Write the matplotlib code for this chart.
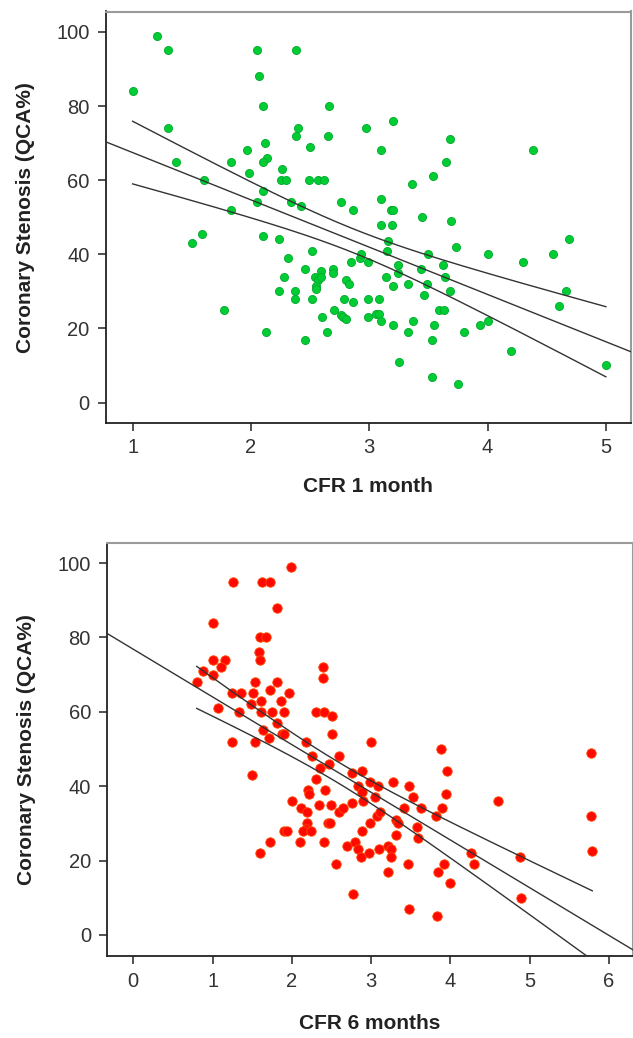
import numpy as np
import matplotlib.pyplot as plt

plt.rcParams['font.family'] = ['Liberation Sans', 'DejaVu Sans']

# CFR at 1 month vs stenosis
cfr1_x = [1.21, 1.30, 2.05, 2.38, 2.07, 1.00, 2.10, 2.66, 1.30, 2.40, 2.97, 2.38, 2.65,
          2.50, 2.12, 1.97, 2.14, 2.10, 1.37, 1.83, 2.26, 1.98, 1.60, 2.25, 2.30, 2.49,
          2.57, 2.62, 2.10, 2.05, 2.34, 2.42, 2.76, 2.86, 1.83,
          3.20, 3.68, 4.38, 3.10, 3.65, 3.54, 3.36, 3.10, 3.18, 3.20, 3.45, 3.69,
          1.59, 1.50, 2.10, 2.24, 2.52, 2.31, 2.46, 2.59, 2.69, 2.69, 2.28, 2.54, 2.57,
          2.59, 2.55, 2.55, 2.80, 2.83, 2.24, 2.37, 2.37, 2.52, 2.79, 2.86, 2.99, 2.70,
          2.60, 2.76, 2.78, 2.80, 2.99, 1.77, 2.13, 2.64, 2.46, 2.85, 2.92, 2.93, 2.99,
          3.10, 3.19, 4.69, 3.16, 3.73, 3.15, 4.00, 4.55, 3.50, 4.30, 3.62, 3.24, 3.44,
          3.64, 3.24, 3.14, 3.33, 3.20, 3.49, 3.46, 3.68, 4.66, 4.60, 3.08, 3.59, 3.63,
          3.06, 3.08, 3.10, 3.20, 3.37, 3.55, 3.33, 3.80, 3.94, 4.00, 3.53, 4.20, 5.00,
          3.25, 3.53, 3.75]
cfr1_y = [99, 95, 95, 95, 88, 84, 80, 80, 74, 74, 74, 72, 72,
          69, 70, 68, 66, 65, 65, 65, 63, 62, 60, 60, 60, 60,
          60, 60, 57, 54, 54, 53, 54, 52, 52,
          76, 71, 68, 68, 65, 61, 59, 55, 52, 52, 50, 49,
          45.5, 43, 45, 44, 41, 39, 36, 35.5, 36, 35, 34, 34, 33,
          34, 31.5, 30.5, 33, 32, 30, 30, 28, 28, 28, 27, 28, 25,
          23, 23.5, 23, 22.5, 23, 25, 19, 19, 17, 38, 39, 40, 38,
          48, 48, 44, 43.5, 42, 41, 40, 40, 40, 38, 37, 37, 36,
          34, 35, 34, 32, 31.5, 32, 29, 30, 30, 26, 28, 25, 25,
          24, 23.8, 22, 21, 22, 21, 19, 19, 21, 22, 17, 14, 10,
          11, 7, 5]

# CFR at 6 months vs stenosis
cfr6_x = [1.99, 1.26, 1.62, 1.72, 1.81, 1.00, 1.60, 1.68, 1.59, 1.60, 1.00, 1.16, 1.11,
          0.88, 1.00, 2.39, 2.39, 0.80, 1.53, 1.81, 1.73, 1.25, 1.36, 1.51, 1.97, 1.86,
          1.48, 1.61, 1.07, 1.33, 1.61, 1.75, 1.90, 2.31, 2.40, 2.51, 1.81, 1.64, 1.87,
          1.90, 2.51, 1.71, 1.25, 1.53, 2.18, 3.00,
          3.88, 5.78,
          2.26, 2.60, 1.50, 2.35, 2.47, 2.30, 2.76, 2.89, 2.20, 2.22, 2.42, 2.00, 2.34,
          2.50, 2.12, 2.19, 2.60, 2.64, 2.76, 2.19, 2.18, 2.46, 2.48, 1.90, 1.94, 2.14,
          2.24, 2.89, 1.73, 2.10, 2.40, 2.70, 2.80, 2.84, 2.87, 1.60, 2.97, 2.56, 2.77,
          2.84, 2.89, 2.90, 2.98, 2.98,
          3.96, 3.09, 3.05, 3.07, 3.11, 3.10, 3.21, 3.25, 3.25, 3.21, 3.27, 3.48, 3.53,
          3.42, 3.63, 3.90, 3.95, 3.82, 3.31, 3.34, 3.58, 3.59, 3.31, 4.60, 5.78, 5.79,
          4.26, 4.30, 4.88, 4.89, 3.46, 3.92, 3.84, 4.00, 3.48, 3.83]
cfr6_y = [99, 95, 95, 95, 88, 84, 80, 80, 76, 74, 74, 74, 72,
          71, 70, 72, 69, 68, 68, 68, 66, 65, 65, 65, 65, 63,
          62, 63, 61, 60, 60, 60, 60, 60, 60, 59, 57, 55, 54,
          54, 54, 53, 52, 52, 52, 52,
          50, 49,
          48, 48, 43, 45, 46, 42, 43.5, 44, 39, 38, 39, 36, 35,
          35, 34, 33, 33, 34, 35.5, 30, 28.5, 30, 30, 28, 28, 28,
          28, 28, 25, 25, 25, 24, 25, 23, 21, 22, 22, 19, 11,
          40, 38.5, 36, 41, 30,
          44, 40, 37, 32, 33, 23, 24, 23, 21, 17, 41, 40, 37,
          34, 34, 34, 38, 32, 31, 30, 29, 26, 27, 36, 32, 22.5,
          22, 19, 21, 10, 19, 19, 17, 14, 7, 5]

T_CRIT = 1.98  # two-sided 95%, df ~ 126


def fit_band(x, y, xs):
    x = np.asarray(x, float)
    y = np.asarray(y, float)
    n = len(x)
    b, a = np.polyfit(x, y, 1)
    s = np.sqrt(np.sum((y - (a + b * x)) ** 2) / (n - 2))
    sxx = np.sum((x - x.mean()) ** 2)
    se = s * np.sqrt(1.0 / n + (xs - x.mean()) ** 2 / sxx)
    yhat = a + b * xs
    return a, b, yhat - T_CRIT * se, yhat + T_CRIT * se


fig = plt.figure(figsize=(6.33, 10.38), dpi=100)
W, H = 633, 1038
ax1 = fig.add_axes([106 / W, 1 - 423.3 / H, (630.7 - 106) / W, (423.3 - 11.5) / H])
ax2 = fig.add_axes([107.3 / W, 1 - 955.7 / H, (632.7 - 107.3) / W, (955.7 - 542.7) / H])

panels = [
    (ax1, cfr1_x, cfr1_y, '#00cc33', '#00a82a', 34, (0.775, 5.21), [1, 2, 3, 4, 5],
     'CFR 1 month', 5, -0.13),
    (ax2, cfr6_x, cfr6_y, '#ff0800', '#ff4a00', 46, (-0.328, 6.30), [0, 1, 2, 3, 4, 5, 6],
     'CFR 6 months', 6, -0.142),
]

for ax, x, y, fc, ec, size, xlim, xticks, xlabel, xpad, xlab_y in panels:
    ax.scatter(x, y, s=size, facecolor=fc, edgecolor=ec, linewidth=0.6, zorder=2)

    xs = np.linspace(min(x), max(x), 200)
    a, b, lo, hi = fit_band(x, y, xs)
    xf = np.array(xlim)
    ax.plot(xf, a + b * xf, color='#333333', lw=1.0, zorder=3)
    ax.plot(xs, lo, color='#333333', lw=1.0, zorder=3)
    ax.plot(xs, hi, color='#333333', lw=1.0, zorder=3)

    ax.set_xlim(*xlim)
    ax.set_ylim(-5.6, 105.5)
    ax.set_xticks(xticks)
    ax.set_yticks([0, 20, 40, 60, 80, 100])

    for side in ['top', 'right']:
        ax.spines[side].set_color('#9a9a9a')
        ax.spines[side].set_linewidth(1.5)
    for side in ['left', 'bottom']:
        ax.spines[side].set_color('#222222')
        ax.spines[side].set_linewidth(1.3)

    ax.tick_params(direction='out', length=5.8, width=1.1, color='#222222',
                   labelsize=14.5, labelcolor='#333333')
    ax.tick_params(axis='x', pad=xpad)
    ax.tick_params(axis='y', pad=6)

    ax.set_xlabel(xlabel, fontsize=15, fontweight='bold', color='#222222')
    ax.set_ylabel('Coronary Stenosis (QCA%)', fontsize=15, fontweight='bold',
                  color='#222222')
    ax.xaxis.set_label_coords(0.5, xlab_y)
    ax.yaxis.set_label_coords(-0.135, 0.5)

fig.savefig('out.png', dpi=100)
